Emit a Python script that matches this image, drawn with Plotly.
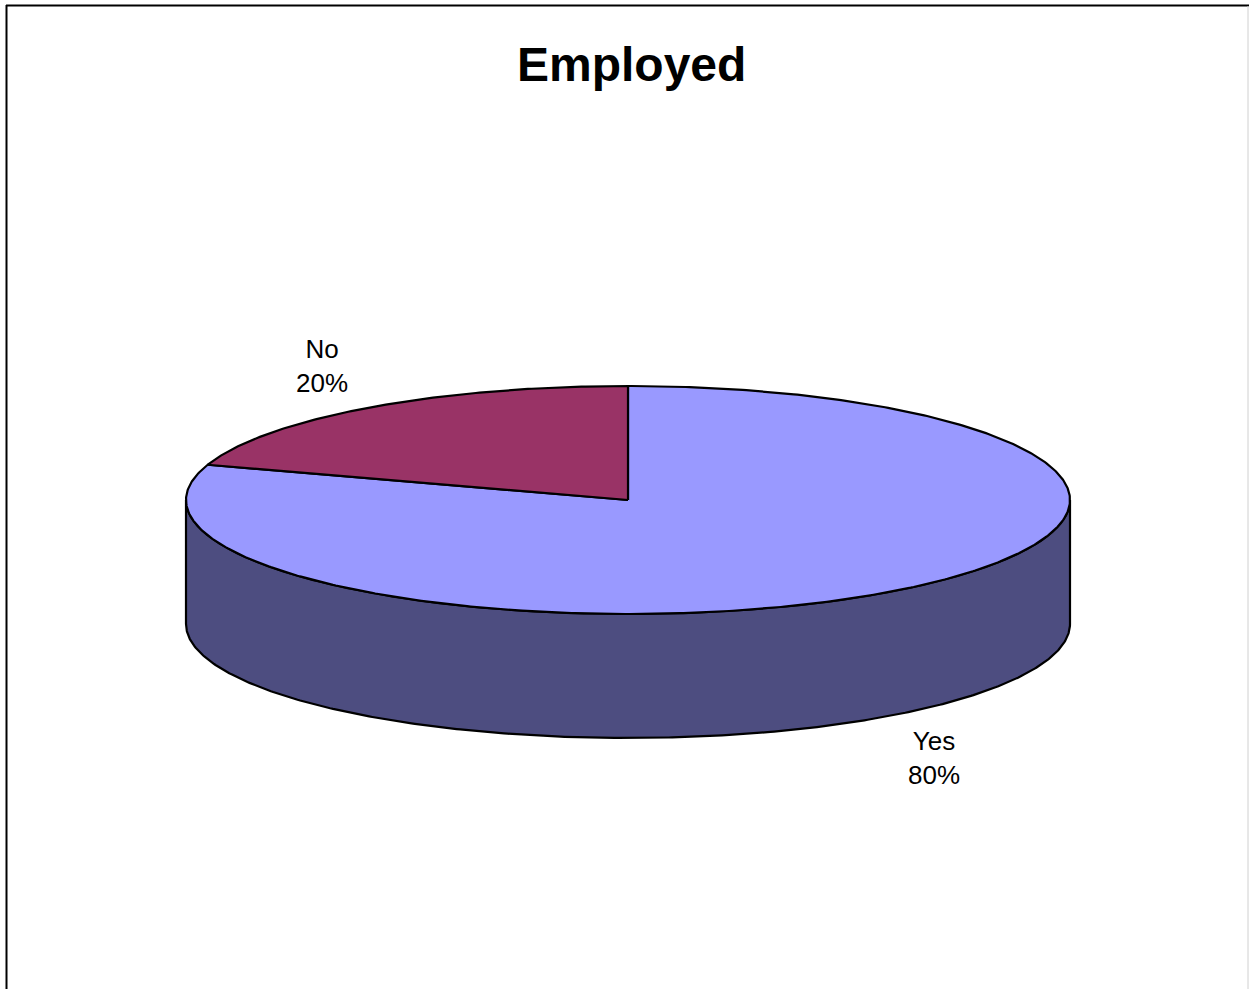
import numpy as np
import plotly.graph_objects as go

# Chart data
title_text = "Employed"
categories = ["Yes", "No"]
values = [80, 20]
top_colors = ["#9999FF", "#993366"]
side_colors = ["#4D4D80", "#4D1A33"]

# Pie layout (pixel space of the page)
W, H = 1249, 989
cx, cy = 628, 500          # centre of the top face
rx, ry = 442, 114          # radii of the top ellipse
depth = 124                # thickness of the disc
lab_rx, lab_ry = 520, 166  # radii on which the labels sit
font_family = "Liberation Sans, Arial, sans-serif"


def pt(t_deg, dz=0.0):
    t = np.radians(t_deg)
    return cx + rx * np.cos(t), cy - ry * np.sin(t) + dz


def arc(a0, a1, dz=0.0, n=None):
    if n is None:
        n = max(8, int(abs(a1 - a0) * 2))
    ts = np.linspace(a0, a1, n)
    xs, ys = pt(ts, dz)
    return list(xs), list(ys)


# slice angle ranges, clockwise from 12 o'clock
total = float(sum(values))
ranges = []
start = 90.0
for v in values:
    end = start - 360.0 * v / total
    ranges.append((start, end))
    start = end

fig = go.Figure()
line = dict(color="black", width=2.2)

# front side walls (visible where the angle is in the lower half)
for (a0, a1), col in zip(ranges, side_colors):
    hi, lo = a0, a1
    for k in range(-2, 3):
        f_hi, f_lo = 0 + 360 * k, -180 + 360 * k
        s_hi, s_lo = min(hi, f_hi), max(lo, f_lo)
        if s_hi - s_lo <= 0:
            continue
        tx, ty = arc(s_hi, s_lo)
        bx, by = arc(s_lo, s_hi, dz=depth)
        xs = tx + bx + [tx[0]]
        ys = ty + by + [ty[0]]
        fig.add_trace(go.Scatter(x=xs, y=ys, mode="lines", fill="toself",
                                 fillcolor=col, line=line, hoverinfo="skip",
                                 showlegend=False))

# top faces
for (a0, a1), col in zip(ranges, top_colors):
    ax_, ay_ = arc(a0, a1)
    xs = [cx] + ax_ + [cx]
    ys = [cy] + ay_ + [cy]
    fig.add_trace(go.Scatter(x=xs, y=ys, mode="lines", fill="toself",
                             fillcolor=col, line=line, hoverinfo="skip",
                             showlegend=False))

# category labels with percentages
for name, v, (a0, a1) in zip(categories, values, ranges):
    mid = np.radians((a0 + a1) / 2.0)
    lx = cx + lab_rx * np.cos(mid)
    ly = cy - lab_ry * np.sin(mid)
    if np.sin(mid) < 0:
        ly += depth
    pct = f"{round(100 * v / total):d}%"
    fig.add_annotation(x=lx, y=ly, xref="x", yref="y", text=f"{name}<br>{pct}",
                       showarrow=False, xanchor="center", yanchor="middle",
                       font=dict(family=font_family, size=26, color="black"))

# title
fig.add_annotation(x=631, y=64, xref="x", yref="y", text=f"<b>{title_text}</b>",
                   showarrow=False, xanchor="center", yanchor="middle",
                   font=dict(family=font_family, size=48, color="black"))

# chart frame
fig.add_shape(type="line", x0=6, x1=W, y0=5.5, y1=5.5, xref="x", yref="y",
              line=dict(color="black", width=2))
fig.add_shape(type="line", x0=6.5, x1=6.5, y0=5, y1=H + 5, xref="x", yref="y",
              line=dict(color="black", width=2))
fig.add_shape(type="line", x0=1248, x1=1248, y0=6, y1=H + 5, xref="x", yref="y",
              line=dict(color="#D0D0D0", width=1))

fig.update_layout(
    width=W, height=H, autosize=False,
    margin=dict(l=0, r=0, t=0, b=0),
    paper_bgcolor="white", plot_bgcolor="white",
    xaxis=dict(range=[0, W], visible=False, fixedrange=True),
    yaxis=dict(range=[H, 0], visible=False, fixedrange=True),
    showlegend=False,
)

fig.write_html("out.html")
